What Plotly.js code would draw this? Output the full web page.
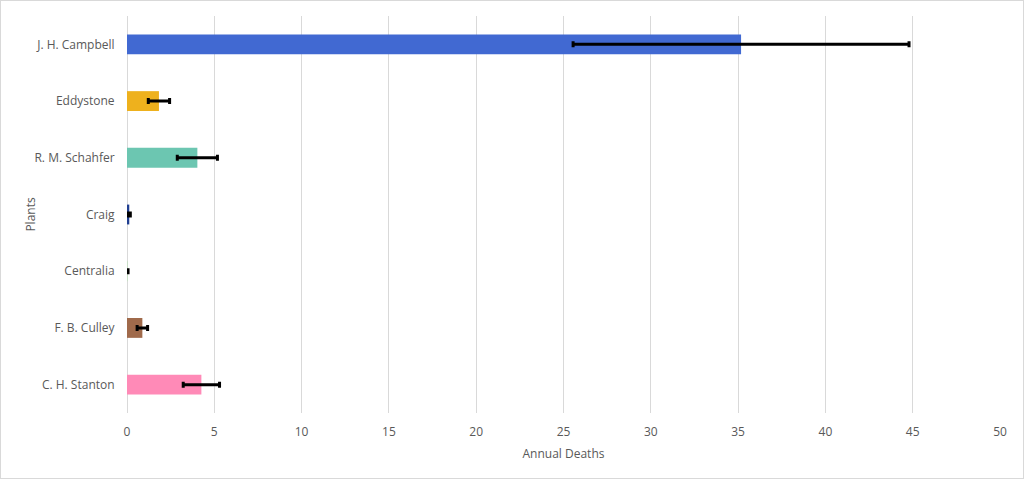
<!DOCTYPE html>
<html>
<head>
<meta charset="utf-8">
<script src="https://cdn.plot.ly/plotly-3.0.1.min.js"></script>
<style>
  html, body { margin: 0; padding: 0; background: #fff; }
  #chart { width: 1024px; height: 479px; box-sizing: border-box; border: 1px solid #d9d9d9; }
</style>
</head>
<body>
<div id="chart"></div>
<script>
const plants = ["J. H. Campbell", "Eddystone", "R. M. Schahfer", "Craig", "Centralia", "F. B. Culley", "C. H. Stanton"];
const annualDeaths = [35.17, 1.83, 4.03, 0.13, 0.03, 0.88, 4.26];
const errors = [9.62, 0.61, 1.15, 0.06, 0.03, 0.3, 1.04];
const barColors = ["#4169d2", "#eeb11d", "#6cc6b1", "#203f91", "#b8e2b4", "#a06a4b", "#ff8ab7"];

const tickFont = { family: "Open Sans, Liberation Sans, sans-serif", size: 12, color: "#595959" };

Plotly.newPlot("chart", [{
  type: "bar",
  orientation: "h",
  y: plants,
  x: annualDeaths,
  width: 0.35,
  marker: { color: barColors },
  error_x: {
    type: "data",
    array: errors,
    visible: true,
    color: "#000",
    thickness: 3,
    width: 3
  },
  hoverinfo: "x+y"
}], {
  width: 1022,
  height: 477,
  margin: { l: 126, r: 23, t: 15, b: 65, pad: 0 },
  paper_bgcolor: "#fff",
  plot_bgcolor: "#fff",
  showlegend: false,
  font: tickFont,
  xaxis: {
    range: [0, 50],
    dtick: 5,
    showgrid: true,
    gridcolor: "#d9d9d9",
    gridwidth: 1,
    zeroline: true,
    zerolinecolor: "#d9d9d9",
    zerolinewidth: 1,
    showline: false,
    ticks: "outside",
    ticklen: 8,
    tickcolor: "rgba(0,0,0,0)",
    tickfont: tickFont,
    title: { text: "Annual Deaths", font: tickFont, standoff: 10 }
  },
  yaxis: {
    autorange: "reversed",
    showgrid: false,
    showline: false,
    ticks: "outside",
    ticklen: 9,
    tickcolor: "rgba(0,0,0,0)",
    tickfont: tickFont
  },
  annotations: [{
    text: "Plants",
    xref: "paper",
    yref: "paper",
    x: -0.111,
    y: 0.5,
    xanchor: "center",
    yanchor: "middle",
    textangle: -90,
    showarrow: false,
    font: tickFont
  }]
}, { displayModeBar: false, staticPlot: true });
</script>
</body>
</html>
